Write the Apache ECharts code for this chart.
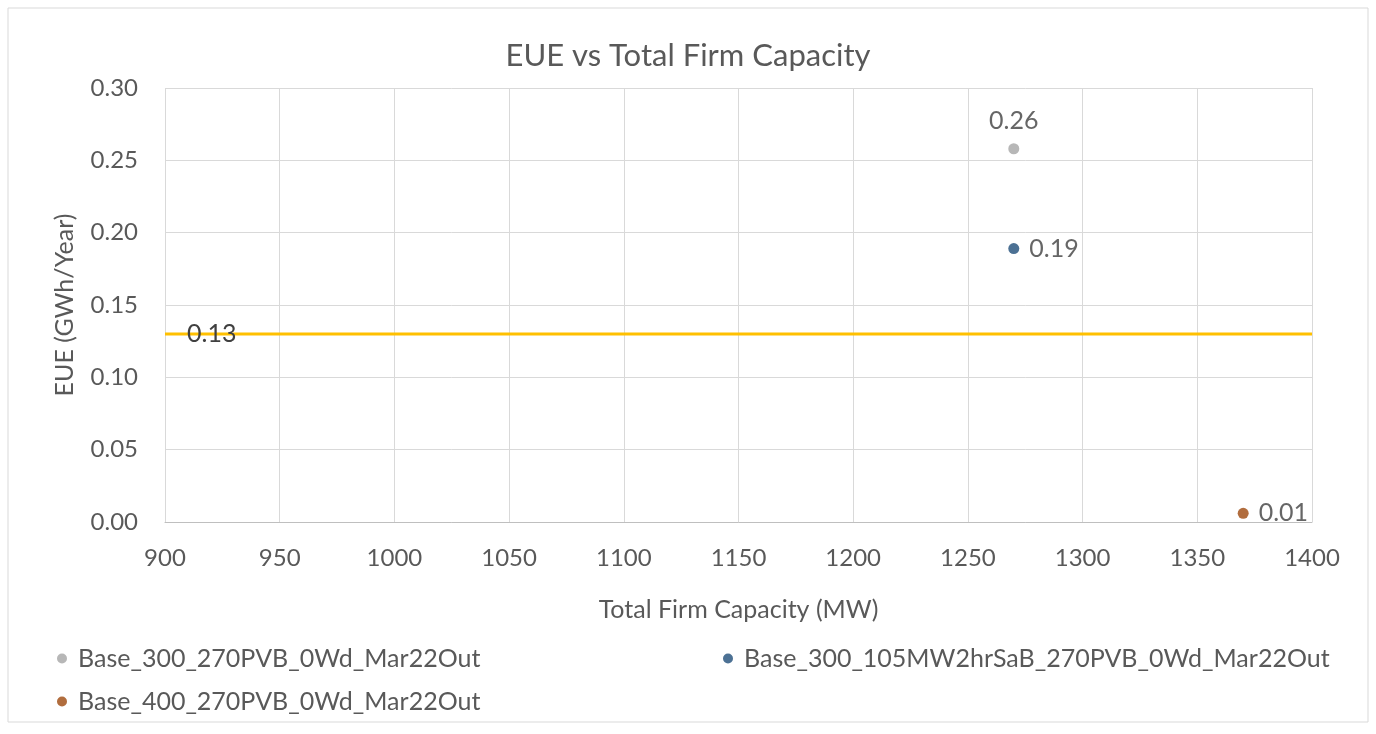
<!DOCTYPE html>
<html><head><meta charset="utf-8">
<script src="https://cdn.jsdelivr.net/npm/echarts@6/dist/echarts.min.js"></script>
<style>html,body{margin:0;padding:0;background:#fff}#c{width:1376px;height:734px}</style>
</head><body><div id="c"></div>
<script>
const seriesNames = ['Base_300_270PVB_0Wd_Mar22Out','Base_300_105MW2hrSaB_270PVB_0Wd_Mar22Out','Base_400_270PVB_0Wd_Mar22Out'];
const seriesColors = ['#a5a5a5','#1f4e79','#9e480e'];
const seriesPoints = [[[1270, 0.258]], [[1270, 0.189]], [[1370, 0.006]]];
const labelPos = ['top','right','right'];
const targetLine = [[900, 0.13], [1400, 0.13]];
const xTicks = [900, 1400, 50];
const yTicks = [0, 0.3, 0.05];
const txt = '#595959';
const font = 'Lato';

const chart = echarts.init(document.getElementById('c'));
const series = seriesNames.map((n, i) => ({
  name: n, type: 'scatter', data: seriesPoints[i], symbolSize: 11,
  itemStyle: {color: seriesColors[i]},
  label: {show: true, position: labelPos[i], distance: 10, color: '#404040', fontSize: 25, fontFamily: font,
    formatter: p => p.value[1].toFixed(2)}
}));
series.push({
  name: 'target', type: 'line', data: targetLine, symbol: 'none',
  lineStyle: {color: '#ffc000', width: 3}, z: 1,
  markPoint: {symbol: 'circle', symbolSize: 0, data: [{coord: targetLine[0], value: targetLine[0][1]}],
    label: {show: true, position: 'right', offset: [17, 0], color: '#404040', fontSize: 25, fontFamily: font,
      formatter: p => p.value.toFixed(2)}}
});
const legendCommon = {icon: 'circle', itemWidth: 10, itemHeight: 10, itemGap: 6,
  textStyle: {color: txt, fontSize: 25, fontFamily: font, padding: [0, 0, 0, 6]}};
chart.setOption({
  animation: false,
  backgroundColor: '#fff',
  graphic: [{type: 'rect', shape: {x: 8, y: 8, width: 1360, height: 714}, style: {fill: 'none', stroke: '#d9d9d9', lineWidth: 1}}],
  title: {text: 'EUE vs Total Firm Capacity', left: 'center', top: 35,
    textStyle: {color: txt, fontSize: 31, fontWeight: 'normal', fontFamily: font}},
  grid: {left: 165, right: 64, top: 88, bottom: 212},
  legend: [
    Object.assign({data: [seriesNames[0]], left: 52, top: 641}, legendCommon),
    Object.assign({data: [seriesNames[1]], left: 718, top: 641}, legendCommon),
    Object.assign({data: [seriesNames[2]], left: 52, top: 684}, legendCommon)
  ],
  xAxis: {type: 'value', min: xTicks[0], max: xTicks[1], interval: xTicks[2],
    name: 'Total Firm Capacity (MW)', nameLocation: 'middle', nameGap: 75,
    nameTextStyle: {color: txt, fontSize: 25, fontFamily: font},
    axisLine: {show: true, lineStyle: {color: '#bfbfbf'}}, axisTick: {show: false},
    axisLabel: {color: txt, fontSize: 24, fontFamily: font, margin: 24, formatter: v => String(v)},
    splitLine: {show: true, lineStyle: {color: '#d9d9d9'}}},
  yAxis: {type: 'value', min: yTicks[0], max: yTicks[1], interval: yTicks[2],
    name: 'EUE (GWh/Year)', nameLocation: 'middle', nameGap: 88,
    nameTextStyle: {color: txt, fontSize: 25, fontFamily: font},
    axisLine: {show: false}, axisTick: {show: false},
    axisLabel: {color: txt, fontSize: 24, fontFamily: font, margin: 27, formatter: v => v.toFixed(2)},
    splitLine: {show: true, lineStyle: {color: '#d9d9d9'}}},
  series: series
});
</script></body></html>
